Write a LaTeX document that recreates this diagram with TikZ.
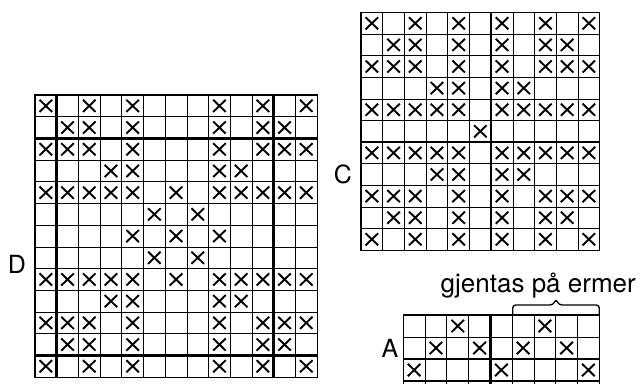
\documentclass[tikz,border=0pt]{standalone}
\usepackage{fontspec}
\setmainfont{TeX Gyre Heros}
\usetikzlibrary{positioning}
% rutenett: #1 kolonner, #2 rader
\newcommand{\rutenett}[2]{%
  \foreach \i in {0,...,#1} \draw[tynn] (\i,0) -- (\i,#2);
  \foreach \j in {0,...,#2} \draw[tynn] (0,\j) -- (#1,\j);
  \draw[ramme] (0,0) rectangle (#1,#2);}
\newcommand{\kryss}[2]{\draw[krysslinje] (#1-0.79,#2-0.78) -- (#1-0.21,#2-0.22) (#1-0.21,#2-0.78) -- (#1-0.79,#2-0.22);}

\begin{document}
\begin{tikzpicture}[x=1pt,y=-1pt,
  tynn/.style={line width=0.8pt},
  ramme/.style={line width=1.2pt},
  tykk/.style={line width=2.5pt},
  krysslinje/.style={line width=1.9pt},
  merke/.style={font=\fontsize{25}{25}\selectfont,inner sep=0pt}]
\useasboundingbox (0,0) rectangle (640,383);
\fill[white] (0,0) rectangle (640,383);
\clip (0,0) rectangle (640,383);
% diagram D
\begin{scope}[shift={(35,95)},x=21.7pt,y=-21.7pt]
\rutenett{13}{13}
\draw[tykk] (1,0) -- (1,13) (11,0) -- (11,13) (0,2) -- (13,2) (0,12) -- (13,12);
\foreach \r/\cs in {1/{1,3,5,9,11,13}, 2/{2,3,5,9,11,12}, 3/{1,2,3,5,9,11,12,13},
  4/{4,5,9,10}, 5/{1,2,3,4,5,7,9,10,11,12,13}, 6/{6,8}, 7/{5,7,9}, 8/{6,8},
  9/{1,2,3,4,5,7,9,10,11,12,13}, 10/{4,5,9,10}, 11/{1,2,3,5,9,11,12,13},
  12/{2,3,5,9,11,12}, 13/{1,3,5,9,11,13}}
  \foreach \c in \cs \kryss{\c}{\r};
\end{scope}
% diagram C
\begin{scope}[shift={(361,12.5)},x=21.7pt,y=-21.6pt]
\rutenett{11}{11}
\draw[tykk] (6,0) -- (6,11) (0,6) -- (11,6);
\foreach \r/\cs in {1/{1,3,5,7,9,11}, 2/{2,3,5,7,9,10}, 3/{1,2,3,5,7,9,10,11},
  4/{4,5,7,8}, 5/{1,2,3,4,5,7,8,9,10,11}, 6/{6}, 7/{1,2,3,4,5,7,8,9,10,11},
  8/{4,5,7,8}, 9/{1,2,3,5,7,9,10,11}, 10/{2,3,5,7,9,10}, 11/{1,3,5,7,9,11}}
  \foreach \c in \cs \kryss{\c}{\r};
\end{scope}
% diagram A
\begin{scope}[shift={(403.3,315)},x=21.78pt,y=-22pt]
\rutenett{9}{4}
\draw[tykk] (4,0) -- (4,4) (0,2) -- (9,2) (0,3) -- (9,3);
\foreach \r/\cs in {1/{3,7}, 2/{2,4,6,8}, 3/{1,5,9}}
  \foreach \c in \cs \kryss{\c}{\r};
\end{scope}
\draw[line width=1.3pt,rounded corners=3pt] (512.7,314) -- (512.7,305) -- (553,305)
  -- (556,299) -- (559,305) -- (599.3,305) -- (599.3,314);
\node[merke,font=\fontsize{26}{26}\selectfont,anchor=base east] (gjentas) at (636,292) {gjentas på ermer};
\node[merke] (D) at (17,264) {D};
\node[merke] (C) at (343,174) {C};
\node[merke] (A) at (390,348) {A};
\end{tikzpicture}
\end{document}
